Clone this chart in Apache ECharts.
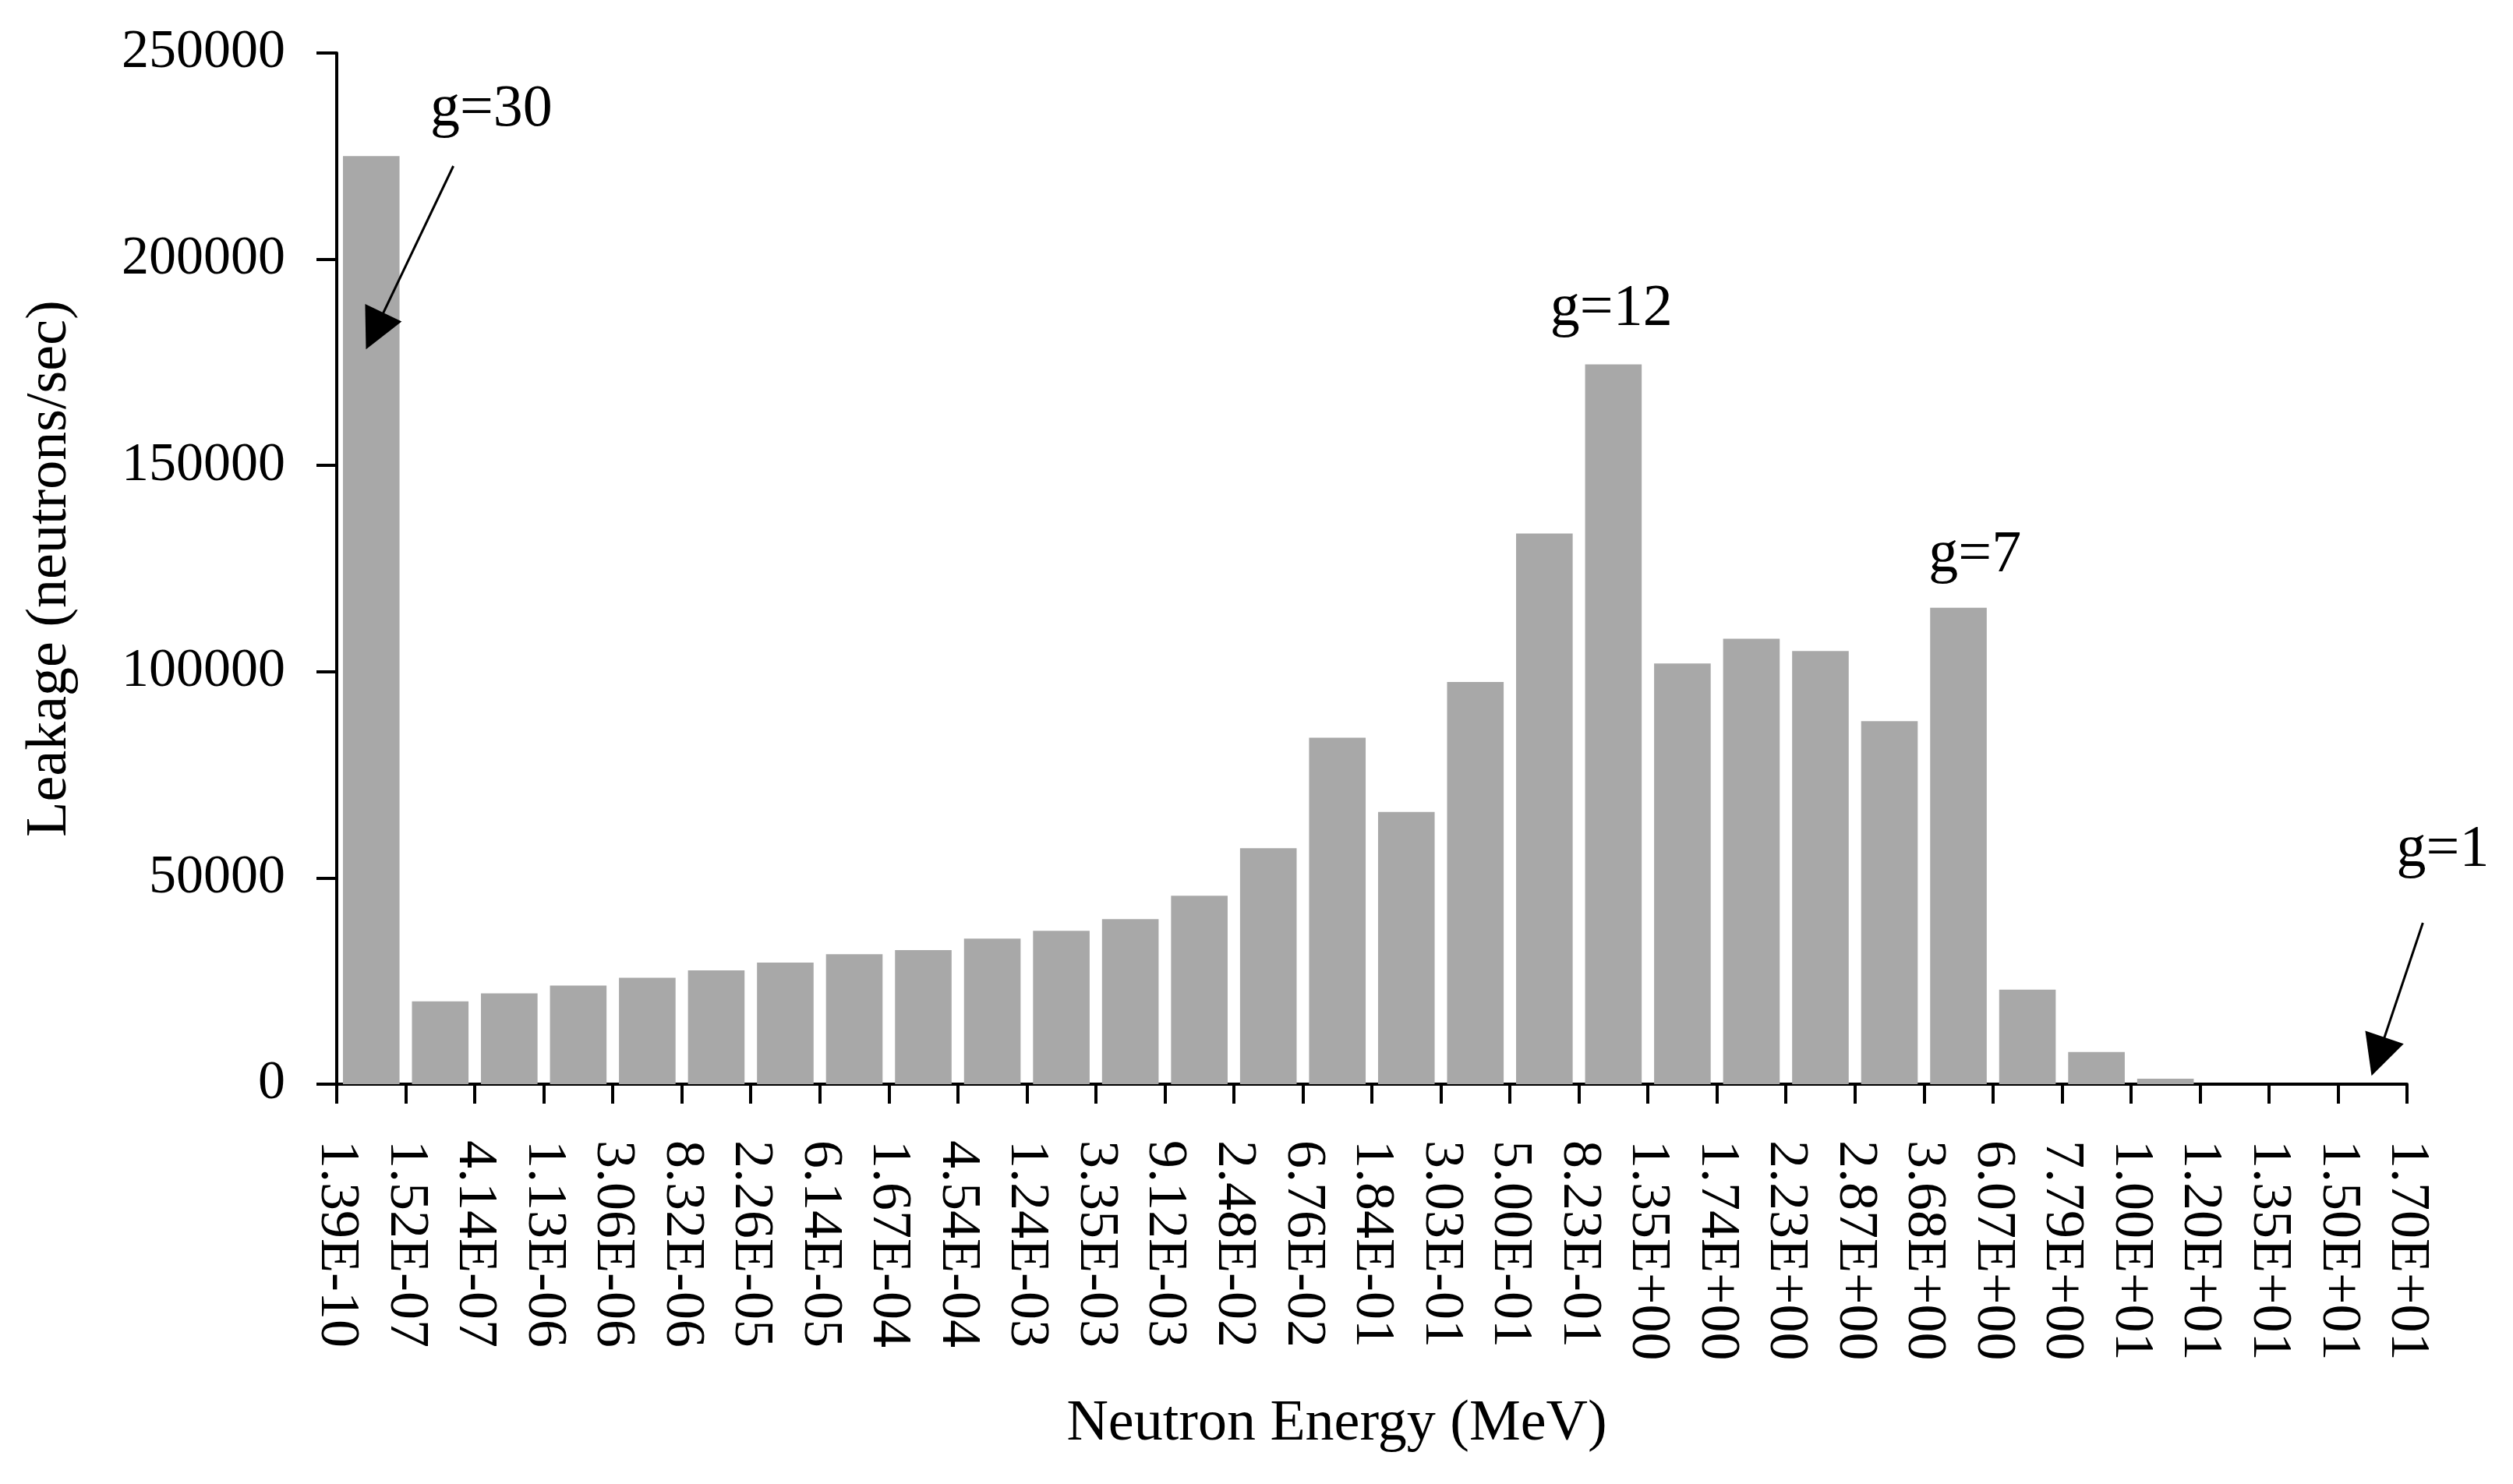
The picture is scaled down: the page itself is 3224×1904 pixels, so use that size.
<!DOCTYPE html>
<html>
<head>
<meta charset="utf-8">
<title>Neutron leakage spectrum</title>
<script src="https://cdn.jsdelivr.net/npm/echarts@6/dist/echarts.min.js"></script>
<style>
	html, body { margin: 0; padding: 0; background: #fff; }
	#leakChart { width: 3224px; height: 1904px; }
</style>
</head>
<body>
<div id="leakChart"></div>
<script>
// energy group edges (MeV), one label per bin boundary
var edgeLabels = ['1.39E-10', '1.52E-07', '4.14E-07', '1.13E-06', '3.06E-06', '8.32E-06',
	'2.26E-05', '6.14E-05', '1.67E-04', '4.54E-04', '1.24E-03', '3.35E-03', '9.12E-03',
	'2.48E-02', '6.76E-02', '1.84E-01', '3.03E-01', '5.00E-01', '8.23E-01', '1.35E+00',
	'1.74E+00', '2.23E+00', '2.87E+00', '3.68E+00', '6.07E+00', '7.79E+00', '1.00E+01',
	'1.20E+01', '1.35E+01', '1.50E+01', '1.70E+01'];

// groups, low energy first (g=30 ... g=1)
var groups = ['g=30', 'g=29', 'g=28', 'g=27', 'g=26', 'g=25', 'g=24', 'g=23', 'g=22', 'g=21',
	'g=20', 'g=19', 'g=18', 'g=17', 'g=16', 'g=15', 'g=14', 'g=13', 'g=12', 'g=11',
	'g=10', 'g=9', 'g=8', 'g=7', 'g=6', 'g=5', 'g=4', 'g=3', 'g=2', 'g=1'];

// leakage per group (neutrons/sec)
var leakage = [225000, 20100, 22000, 23900, 25800, 27600, 29500, 31500, 32500, 35300,
	37200, 40000, 45700, 57200, 84000, 66000, 97500, 133500, 174500, 102000,
	108000, 105000, 88000, 115500, 22900, 7800, 1300, 0, 0, 0];

// annotation texts, position in [bin index, leakage]
var noteTexts = ['g=30', 'g=12', 'g=7', 'g=1'];
var notePos = [[2.24, 236200], [18.47, 187800], [23.74, 128100], [30.52, 56700]];

// arrows: from [bin, leakage] to head centre [bin, leakage]
var arrowFrom = [[1.69, 222600], [30.23, 39100]];
var arrowTo = [[0.55, 182600], [29.58, 6700]];

var serifFont = '"Liberation Serif", "DejaVu Serif", serif';

var noteData = [];
for (var i = 0; i < noteTexts.length; i++) {
	noteData.push({ value: notePos[i], label: { formatter: noteTexts[i] } });
}
var arrowData = [];
for (var j = 0; j < arrowFrom.length; j++) {
	arrowData.push({ coords: [arrowFrom[j], arrowTo[j]] });
}

var myChartLeak = echarts.init(document.getElementById('leakChart'), null, { renderer: 'canvas' });
optionLeak = {
	backgroundColor: '#ffffff',
	animation: false,
	textStyle: { fontFamily: serifFont, color: '#000' },
	grid: {
		left: 432,
		right: 136,
		top: 68,
		bottom: 513
	},
	xAxis: [
		{
			// bars sit in the bands of this one
			type: 'category',
			data: groups,
			boundaryGap: true,
			show: false
		},
		{
			// bin edges, labels at the ticks
			type: 'category',
			data: edgeLabels,
			boundaryGap: false,
			position: 'bottom',
			name: 'Neutron Energy (MeV)',
			nameLocation: 'middle',
			nameGap: 400,
			nameTextStyle: { fontFamily: serifFont, fontSize: 74, color: '#000', padding: [0, 90, 0, 0] },
			axisLine: { show: true, lineStyle: { color: '#000', width: 4 } },
			axisTick: { show: true, alignWithLabel: true, interval: 0, length: 25, lineStyle: { color: '#000', width: 4 } },
			axisLabel: {
				interval: 0,
				rotate: -90,
				margin: 72,
				fontFamily: serifFont,
				fontSize: 72,
				color: '#000'
			},
			splitLine: { show: false }
		},
		{
			// helper scale for the notes
			type: 'value',
			min: 0,
			max: 30,
			show: false
		}
	],
	yAxis: {
		type: 'value',
		min: 0,
		max: 250000,
		interval: 50000,
		name: 'Leakage (neutrons/sec)',
		nameLocation: 'middle',
		nameGap: 330,
		nameTextStyle: { fontFamily: serifFont, fontSize: 74, color: '#000' },
		axisLine: { show: true, lineStyle: { color: '#000', width: 4 } },
		axisTick: { show: true, length: 26, lineStyle: { color: '#000', width: 4 } },
		axisLabel: {
			margin: 66,
			fontFamily: serifFont,
			fontSize: 70,
			color: '#000',
			formatter: function (v) { return String(v); }
		},
		splitLine: { show: false }
	},
	series: [
		{
			name: 'Leakage',
			type: 'bar',
			xAxisIndex: 0,
			data: leakage,
			barCategoryGap: '18%',
			itemStyle: { color: '#a8a8a8' },
			silent: true,
			z: 2
		},
		{
			name: 'notes',
			type: 'scatter',
			xAxisIndex: 2,
			symbolSize: 0,
			clip: false,
			silent: true,
			itemStyle: { opacity: 1 },
			label: {
				show: true,
				position: 'inside',
				fontFamily: serifFont,
				fontSize: 76,
				color: '#000',
				opacity: 1,
				textBorderWidth: 0
			},
			data: noteData,
			z: 10
		},
		{
			name: 'arrows',
			type: 'lines',
			coordinateSystem: 'cartesian2d',
			xAxisIndex: 2,
			yAxisIndex: 0,
			clip: false,
			silent: true,
			symbol: ['none', 'triangle'],
			symbolSize: [44, 52],
			lineStyle: { color: '#000', width: 3, type: 'solid', opacity: 1, curveness: 0 },
			itemStyle: { color: '#000' },
			data: arrowData,
			z: 10
		}
	]
};
myChartLeak.setOption(optionLeak, true);
</script>
</body>
</html>
